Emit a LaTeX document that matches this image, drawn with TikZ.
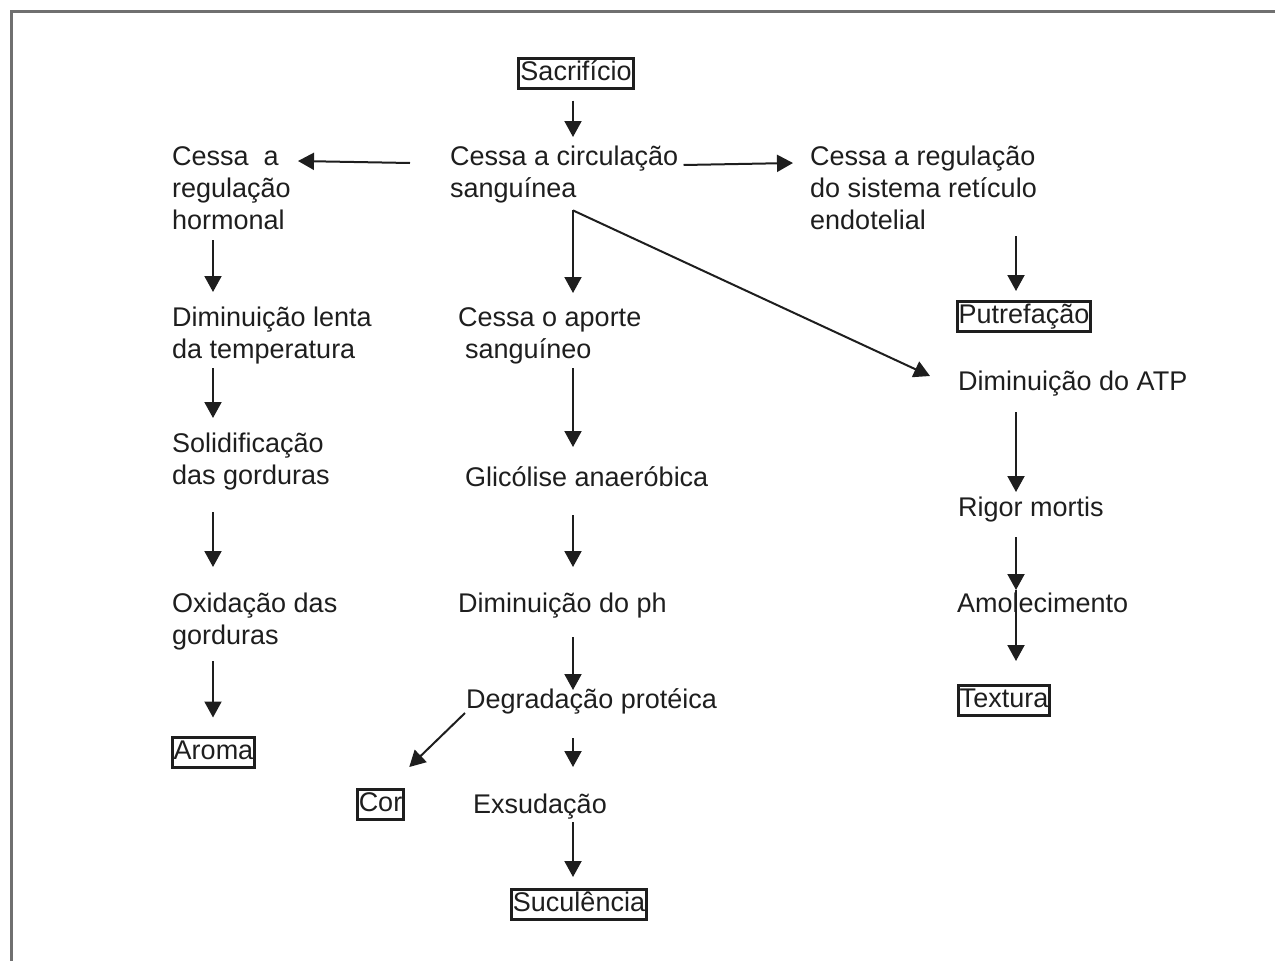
\documentclass[tikz,border=0pt]{standalone}
\usepackage{fontspec}
\setmainfont{Liberation Sans}
\usetikzlibrary{arrows.meta,calc}
\definecolor{ink}{HTML}{1E1E1E}
\definecolor{framecol}{HTML}{707070}
\newcommand\lst{\rule[-6pt]{0pt}{26pt}}
\begin{document}
\begin{tikzpicture}[x=1pt,y=-1pt,
 lbl/.style={anchor=north west,inner sep=0pt,align=left,text=ink,font=\fontsize{27}{32}\selectfont},
 boxed/.style={draw=ink,line width=3pt,inner xsep=1.5pt,inner ysep=2.5pt,text height=19.5pt,text depth=5.5pt,text=ink,font=\fontsize{27}{32}\selectfont},
 arr/.style={draw=ink,line width=2pt,-{Triangle[width=17pt,length=16pt]}}]
\useasboundingbox (0,0) rectangle (1275,961);
\draw[framecol,line width=3pt] (1275,11) -- (11,11) -- (11,961);

\coordinate (cL) at (213,0);
\coordinate (cC) at (573,0);
\coordinate (cR) at (1016,0);

\node[boxed] (sac) at (576,73) {Sacrifício};
\node[lbl] (circ) at (450,145) {\lst Cessa a circulação\\\lst sanguínea};
\node[lbl] (hr) at (172,145) {\lst Cessa\ \ a\\\lst regulação\\\lst hormonal};
\node[lbl] (reg) at (810,145) {\lst Cessa a regulação\\\lst do sistema retículo\\\lst endotelial};
\node[lbl] (temp) at (172,306) {\lst Diminuição lenta\\\lst da temperatura};
\node[lbl] (solid) at (172,432) {\lst Solidificação\\\lst das gorduras};
\node[lbl] (oxid) at (172,592) {\lst Oxidação das\\\lst gorduras};
\node[boxed] (aroma) at (213.5,752) {Aroma};
\node[lbl] (aporte) at (458,306) {\lst Cessa o aporte\\\lst\hspace*{7pt}sanguíneo};
\node[lbl] (glic) at (465,466) {\lst Glicólise anaeróbica};
\node[lbl] (ph) at (458,592) {\lst Diminuição do ph};
\node[lbl] (degr) at (466,688) {\lst Degradação protéica};
\node[boxed] (cor) at (380.5,804.5) {Cor};
\node[lbl] (exs) at (473,793) {\lst Exsudação};
\node[boxed] (suc) at (579,904.5) {Suculência};
\node[boxed] (put) at (1024,316.5) {Putrefação};
\node[lbl] (atp) at (958,370) {\lst Diminuição do ATP};
\node[lbl] (rig) at (958,496) {\lst Rigor mortis};
\node[lbl] (amol) at (957,592) {\lst Amolecimento};
\node[boxed] (tex) at (1004,700.5) {Textura};

% center column
\draw[arr,shorten <=11pt,shorten >=8pt] (sac.south -| cC) -- (circ.north -| cC);
\draw[arr] ($(circ.north west)+(-40,18)$) -- ($(hr.north east)+(7,16)$);
\draw[arr] ($(circ.north east)+(5,20)$) -- ($(reg.north west)+(-17,18)$);
\path ($(circ.south -| cC)+(0,7)$) coordinate (fork);
\draw[arr,shorten >=13pt] (fork) -- (aporte.north -| cC);
\draw[arr] (fork) -- ($(atp.north west)+(-28,6)$);
\draw[arr,shorten <=4pt,shorten >=19pt] (aporte.south -| cC) -- (glic.north -| cC);
\draw[arr,shorten <=23pt,shorten >=25pt] (glic.south -| cC) -- (ph.north -| cC);
\draw[arr,shorten <=19pt,shorten >=-2pt] (ph.south -| cC) -- (degr.north -| cC);
\draw[arr] ($(degr.north west)+(-1,25)$) -- ($(cor.north east)+(4,-21)$);
\draw[arr,shorten <=24pt,shorten >=26pt] (degr.south -| cC) -- (exs.north -| cC);
\draw[arr,shorten <=3pt,shorten >=11pt] (exs.south -| cC) -- (suc.north -| cC);

% left column
\draw[arr,shorten <=5pt,shorten >=14pt] (hr.south -| cL) -- (temp.north -| cL);
\draw[arr,shorten <=4pt,shorten >=14pt] (temp.south -| cL) -- (solid.north -| cL);
\draw[arr,shorten <=22pt,shorten >=25pt] (solid.south -| cL) -- (oxid.north -| cL);
\draw[arr,shorten <=11pt,shorten >=18pt] (oxid.south -| cL) -- (aroma.north -| cL);

% right column
\draw[arr,shorten <=1pt,shorten >=9pt] (reg.south -| cR) -- (put.north -| cR);
\draw[arr,shorten <=16pt,shorten >=4pt] (atp.south -| cR) -- (rig.north -| cR);
\draw[arr,shorten <=15pt,shorten >=2pt] (rig.south -| cR) -- (amol.north -| cR);
\draw[arr,shorten <=-2pt,shorten >=23pt] (amol.north -| cR) -- (tex.north -| cR);
\end{tikzpicture}
\end{document}
